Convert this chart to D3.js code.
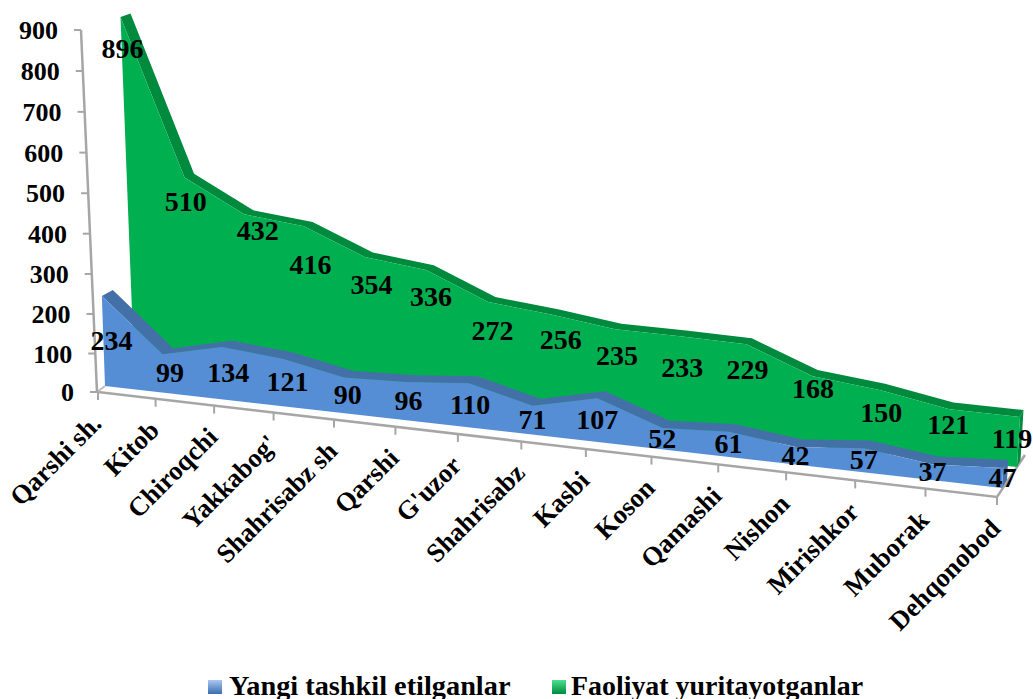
<!DOCTYPE html>
<html>
<head>
<meta charset="utf-8">
<script src="https://cdnjs.cloudflare.com/ajax/libs/d3/7.8.5/d3.min.js"></script>
<style>
html, body { margin: 0; padding: 0; background: #fff; overflow: hidden; }
svg text { font-family: "Liberation Serif", serif; font-weight: bold; fill: #000; }
</style>
</head>
<body>
<svg id="chart" width="1033" height="699"></svg>
<script>
var categories = ["Qarshi sh.", "Kitob", "Chiroqchi", "Yakkabog'", "Shahrisabz sh", "Qarshi", "G'uzor",
                  "Shahrisabz", "Kasbi", "Koson", "Qamashi", "Nishon", "Mirishkor", "Muborak", "Dehqonobod"];
var yangi = [234, 99, 134, 121, 90, 96, 110, 71, 107, 52, 61, 42, 57, 37, 47];
var faoliyat = [896, 510, 432, 416, 354, 336, 272, 256, 235, 233, 229, 168, 150, 121, 119];
var yTicks = [0, 100, 200, 300, 400, 500, 600, 700, 800, 900];

// the green labels were dragged by hand in the original
var greenNudgeX = [-1, -1, 12, 6, 7, 6, 6, 12, 5, 6, 6, 6, 7, 6, 0];
var greenNudgeY = [1, -6, -13, 9, -1, -1, 1, -2, 0, 6, 0, -12, -1, -8, -1];

var svg = d3.select("#chart");

var tScale = d3.scalePoint().domain(categories).range([0, 1]);

// the fake 3d: categories get wider towards the right end
function warp(t, persp) { return (1 - persp) * t / (1 - persp * t); }

var yAxisY = d3.scalePow().exponent(1.02).domain([0, 900]).range([392, 30]);
var yAxisX = d3.scaleLinear().domain([0, 900]).range([97, 81]);

var floorX = d3.scaleLinear().domain([0, 1]).range([98, 997]);
var floorY = d3.scaleLinear().domain([0, 1]).range([392, 497]);

// one slab per series, front edge on the floor plus an offset for the depth
var blueGeo = {persp: 0.09, x: [105, 1002], y: [386, 488], k: [0.385, 0.425], dx: [11, 5], dy: [-6, -8], lean: [-0.035, 0.06]};
var greenGeo = {persp: 0.11, x: [134.6, 1017], y: [378, 467], k: [0.403, 0.42], dx: [10, 3.5], dy: [-3.5, -7], lean: [-0.039, 0.06]};

function front(geo, cat, v) {
    var t = tScale(cat),
        w = warp(t, geo.persp),
        h = v * d3.interpolate(geo.k[0], geo.k[1])(t),
        lean = d3.interpolate(geo.lean[0], geo.lean[1])(t);
    return [d3.interpolate(geo.x[0], geo.x[1])(w) + lean * h, d3.interpolate(geo.y[0], geo.y[1])(w) - h];
}

function back(geo, cat, v) {
    var t = tScale(cat), p = front(geo, cat, v);
    return [p[0] + d3.interpolate(geo.dx[0], geo.dx[1])(t), p[1] + d3.interpolate(geo.dy[0], geo.dy[1])(t)];
}

var line = d3.line();

// floor
var floorPts = [[98, 392], [135, 376], [1025, 455], [997, 497]];
svg.append("path")
    .attr("d", line(floorPts) + "Z")
    .attr("fill", "#fff");
svg.append("path")
    .attr("d", line([floorPts[0], floorPts[3], floorPts[2]]))
    .attr("fill", "none")
    .attr("stroke", "#a6a6a6")
    .attr("stroke-width", 2.5);
svg.append("path")
    .attr("d", line([[97, 392], [105, 386]]))
    .attr("fill", "none")
    .attr("stroke", "#bdbdbd")
    .attr("stroke-width", 2);

// category ticks and labels
var cat = svg.append("g").selectAll("g")
    .data(categories)
    .enter().append("g")
    .attr("transform", function(d) {
        var w = warp(tScale(d), greenGeo.persp);
        return "translate(" + floorX(w) + "," + floorY(w) + ")";
    });

cat.append("line")
    .attr("y1", 0)
    .attr("y2", 8)
    .attr("stroke", "#a6a6a6")
    .attr("stroke-width", 2);

cat.append("text")
    .attr("transform", "translate(5,33) rotate(-45)")
    .attr("text-anchor", "end")
    .attr("font-size", 26.5)
    .text(function(d) { return d; });

// value axis
svg.append("line")
    .attr("x1", yAxisX(0)).attr("y1", yAxisY(0))
    .attr("x2", yAxisX(900)).attr("y2", yAxisY(900))
    .attr("stroke", "#a6a6a6")
    .attr("stroke-width", 2.5);

var yTick = svg.append("g").selectAll("g")
    .data(yTicks)
    .enter().append("g")
    .attr("transform", function(d) { return "translate(" + yAxisX(d) + "," + yAxisY(d) + ")"; });

yTick.append("line")
    .attr("x1", -7)
    .attr("x2", 0)
    .attr("stroke", "#a6a6a6")
    .attr("stroke-width", 2);

yTick.append("text")
    .attr("x", -23)
    .attr("y", 9)
    .attr("text-anchor", "end")
    .attr("font-size", 26)
    .text(function(d) { return d; });

function drawSlab(values, geo, faceColor, topColor) {
    var top = categories.map(function(c, i) { return front(geo, c, values[i]); }),
        topBack = categories.map(function(c, i) { return back(geo, c, values[i]); }),
        first = categories[0],
        last = categories[categories.length - 1],
        g = svg.append("g");

    // right end of the slab
    g.append("path")
        .attr("d", line([front(geo, last, 0), back(geo, last, 0), topBack[topBack.length - 1], top[top.length - 1]]) + "Z")
        .attr("fill", topColor);

    g.append("path")
        .attr("d", line(top.concat(topBack.slice().reverse())) + "Z")
        .attr("fill", topColor);

    g.append("path")
        .attr("d", line(top.concat([front(geo, last, 0), front(geo, first, 0)])) + "Z")
        .attr("fill", faceColor);
}

drawSlab(faoliyat, greenGeo, "#00b050", "#008a3e");
drawSlab(yangi, blueGeo, "#558ed5", "#4470a8");

// data labels: green sits just under its edge, blue in the middle of its face
var blueLabelDx = d3.scaleLinear().domain([0, 0.5, 1]).range([8, 0, 0]);

svg.append("g").selectAll("text")
    .data(categories)
    .enter().append("text")
    .attr("text-anchor", "middle")
    .attr("font-size", 28)
    .attr("x", function(d, i) {
        return front(greenGeo, d, faoliyat[i])[0] + d3.interpolate(3, -8)(tScale(d)) + greenNudgeX[i];
    })
    .attr("y", function(d, i) {
        return front(greenGeo, d, faoliyat[i])[1] + d3.interpolate(31, 23)(tScale(d)) + 9 + greenNudgeY[i];
    })
    .text(function(d, i) { return faoliyat[i]; });

svg.append("g").selectAll("text")
    .data(categories)
    .enter().append("text")
    .attr("text-anchor", "middle")
    .attr("font-size", 28)
    .attr("x", function(d, i) {
        return front(blueGeo, d, yangi[i] / 2)[0] + blueLabelDx(tScale(d));
    })
    .attr("y", function(d, i) {
        return front(blueGeo, d, yangi[i] / 2)[1] + 9;
    })
    .text(function(d, i) { return yangi[i]; });

// legend
var legendItems = ["Yangi tashkil etilganlar", "Faoliyat yuritayotganlar"],
    legendColors = [["#a9c8f0", "#3a6cb0"], ["#4fe08f", "#008a3e"]],
    legendX = [208, 552],
    legendTextDx = [21, 19],
    legendSize = [28.3, 27.9],
    defs = svg.append("defs");

legendItems.forEach(function(name, i) {
    var grad = defs.append("linearGradient")
        .attr("id", "leg" + i)
        .attr("x1", 0).attr("y1", 0).attr("x2", 0).attr("y2", 1);
    grad.append("stop").attr("offset", "0%").attr("stop-color", legendColors[i][0]);
    grad.append("stop").attr("offset", "100%").attr("stop-color", legendColors[i][1]);

    svg.append("rect")
        .attr("x", legendX[i])
        .attr("y", 680)
        .attr("width", 14)
        .attr("height", 14)
        .attr("fill", "url(#leg" + i + ")");

    svg.append("text")
        .attr("x", legendX[i] + legendTextDx[i])
        .attr("y", 695)
        .attr("font-size", legendSize[i])
        .text(name);
});
</script>
</body>
</html>
